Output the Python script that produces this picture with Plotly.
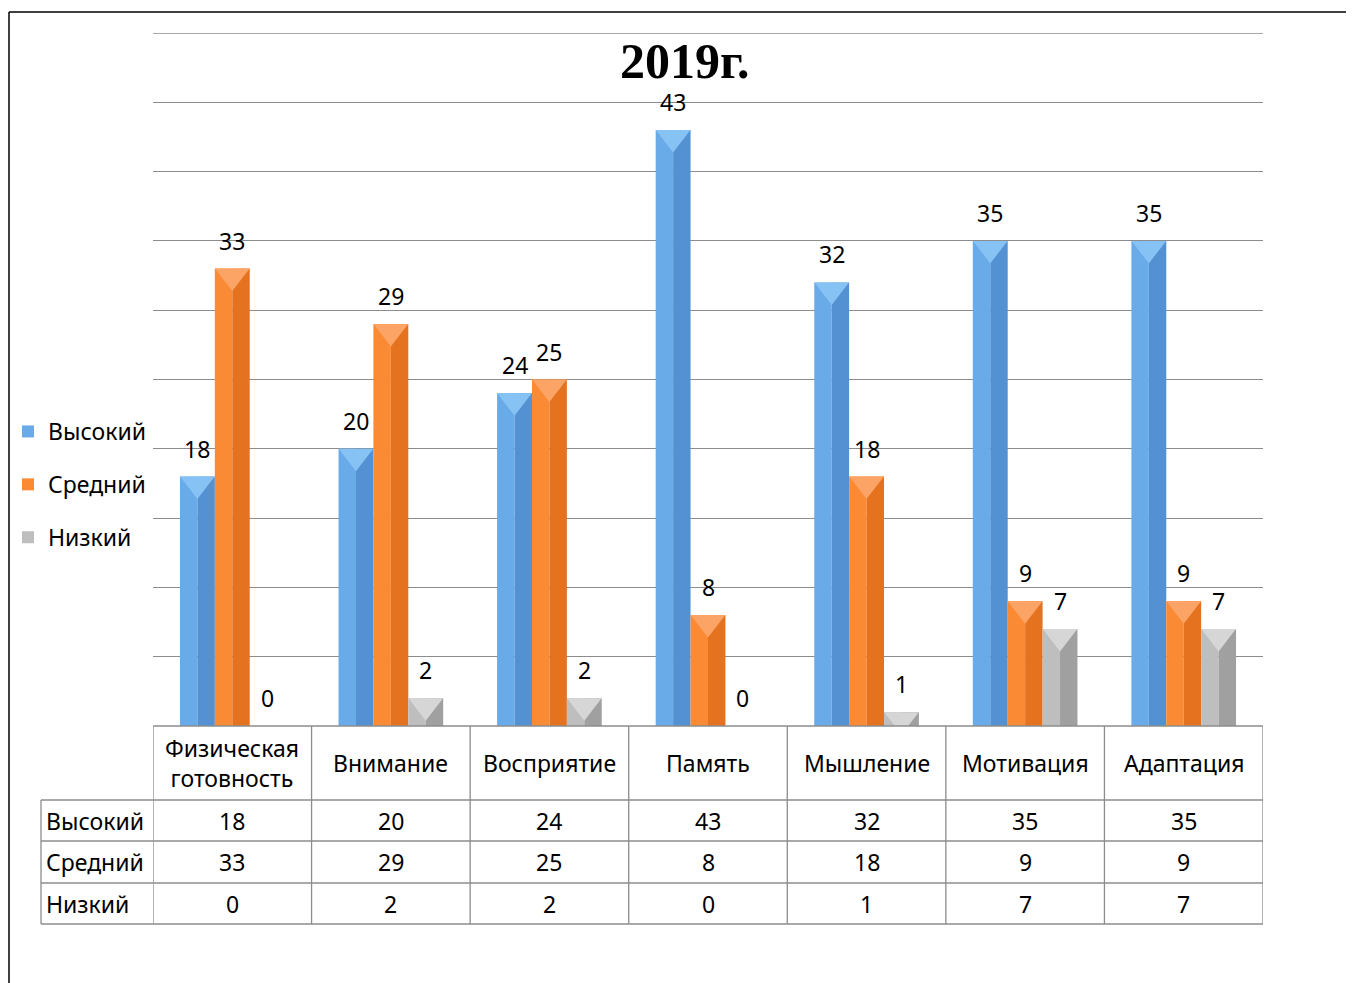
import plotly.graph_objects as go

categories = ["Физическая<br>готовность", "Внимание", "Восприятие", "Память",
              "Мышление", "Мотивация", "Адаптация"]
series_names = ["Высокий", "Средний", "Низкий"]
high = [18, 20, 24, 43, 32, 35, 35]
mid = [33, 29, 25, 8, 18, 9, 9]
low = [0, 2, 2, 0, 1, 7, 7]
title_text = "2019г."
y_max = 50
y_step = 5

series = [high, mid, low]
left_colors = ["#69ABE9", "#FA8A34", "#BEBEBE"]
right_colors = ["#5391D3", "#E4721F", "#A0A0A0"]
cap_colors = ["#86C2F3", "#FCA466", "#D6D6D6"]

OFF = 8  # page body margin
W, H = 1354 - OFF, 983 - OFF
# plot area in reference-page pixels
L, R, T, B = 153, 1263, 33, 726
FONT = "Noto Sans"
FS = 23


def px_x(px):
    return (px - L) / (R - L)


def px_y(py):
    return (B - py) / (B - T)


unit_px = (B - T) / y_max
xs = list(range(len(categories)))
bw = 0.22
cap_size = 30
cap_drop = (cap_size / 4) / unit_px  # align the cap's flat edge with bar top

fig = go.Figure()
for k, (name, vals) in enumerate(zip(series_names, series)):
    start = -0.33 + k * bw
    fig.add_trace(go.Bar(
        x=xs, y=vals, name=name, width=bw / 2, offset=start,
        marker=dict(color=left_colors[k], line=dict(width=0)),
        legendgroup=name, showlegend=True, hoverinfo="y"))
    fig.add_trace(go.Bar(
        x=xs, y=vals, name=name, width=bw / 2, offset=start + bw / 2,
        marker=dict(color=right_colors[k], line=dict(width=0)),
        legendgroup=name, showlegend=False, hoverinfo="y"))
for k, (name, vals) in enumerate(zip(series_names, series)):
    center = -0.33 + k * bw + bw / 2
    fig.add_trace(go.Scatter(
        x=[i + center for i, v in enumerate(vals) if v > 0],
        y=[v - cap_drop for v in vals if v > 0],
        mode="markers",
        marker=dict(symbol="triangle-down", size=cap_size,
                    color=cap_colors[k], line=dict(width=0)),
        legendgroup=name, showlegend=False, hoverinfo="skip"))

annotations = []
for k, vals in enumerate(series):
    center = -0.33 + k * bw + bw / 2
    for i, v in enumerate(vals):
        annotations.append(dict(
            x=i + center, y=v, xref="x", yref="y", text=str(v),
            showarrow=False, yshift=28, yanchor="middle",
            font=dict(family=FONT, size=FS, color="#000")))

shapes = []
grid_col = "#8C8C8C"
shapes.append(dict(type="line", xref="paper", yref="y", x0=0, x1=1,
                   y0=y_max, y1=y_max, line=dict(color=grid_col, width=1.3)))
row_lines = [800, 841, 883, 924]
shapes.append(dict(type="line", xref="paper", yref="paper",
                   x0=0, x1=1, y0=px_y(B), y1=px_y(B),
                   line=dict(color=grid_col, width=1.3)))
for ry in row_lines:
    shapes.append(dict(type="line", xref="paper", yref="paper",
                       x0=px_x(41), x1=1, y0=px_y(ry), y1=px_y(ry),
                       line=dict(color=grid_col, width=1.3)))
shapes.append(dict(type="line", xref="paper", yref="paper",
                   x0=px_x(41), x1=px_x(41), y0=px_y(800), y1=px_y(924),
                   line=dict(color=grid_col, width=1.3)))
for i in range(len(categories) + 1):
    shapes.append(dict(type="line", xref="x", yref="paper",
                       x0=i - 0.5, x1=i - 0.5, y0=px_y(B), y1=px_y(924),
                       line=dict(color=grid_col, width=1.3)))

for i, c in enumerate(categories):
    annotations.append(dict(x=i, y=px_y(763), xref="x", yref="paper", text=c,
                            showarrow=False, yanchor="middle",
                            font=dict(family=FONT, size=FS, color="#000")))
row_centers = [821, 862, 904]
for r, (name, vals) in enumerate(zip(series_names, series)):
    annotations.append(dict(x=px_x(44), y=px_y(row_centers[r]), xref="paper",
                            yref="paper", text=name, showarrow=False,
                            xanchor="left", yanchor="middle",
                            font=dict(family=FONT, size=FS, color="#000")))
    for i, v in enumerate(vals):
        annotations.append(dict(x=i, y=px_y(row_centers[r]), xref="x",
                                yref="paper", text=str(v), showarrow=False,
                                yanchor="middle",
                                font=dict(family=FONT, size=FS, color="#000")))

annotations.append(dict(x=px_x(685), y=px_y(61), xref="paper", yref="paper",
                        text="<b>" + title_text + "</b>", showarrow=False,
                        yanchor="middle",
                        font=dict(family="Liberation Serif", size=50,
                                  color="#000")))

shapes.append(dict(type="line", xref="paper", yref="paper",
                   x0=px_x(9), x1=px_x(1360), y0=px_y(12), y1=px_y(12),
                   line=dict(color="#000", width=1.5)))
shapes.append(dict(type="line", xref="paper", yref="paper",
                   x0=px_x(9), x1=px_x(9), y0=px_y(12), y1=px_y(990),
                   line=dict(color="#000", width=1.5)))

fig.update_layout(
    width=W, height=H,
    margin=dict(l=L - OFF, r=W - (R - OFF), t=T - OFF, b=H - (B - OFF), pad=0,
                autoexpand=False),
    plot_bgcolor="white", paper_bgcolor="white",
    barmode="overlay",
    showlegend=True,
    legend=dict(x=0, xref="container", xanchor="left",
                y=px_y(410), yanchor="top",
                font=dict(family=FONT, size=FS, color="#000"),
                tracegroupgap=20, bgcolor="rgba(0,0,0,0)",
                itemclick=False, traceorder="grouped"),
    xaxis=dict(range=[-0.5, len(categories) - 0.5], showticklabels=False,
               showgrid=False, zeroline=False, showline=False, ticks="",
               fixedrange=True),
    yaxis=dict(range=[0, y_max], dtick=y_step, showticklabels=False,
               showgrid=True, gridcolor=grid_col, gridwidth=1.3,
               zeroline=False, showline=False, ticks="", fixedrange=True),
    annotations=annotations,
    shapes=shapes,
)

fig.write_html("out.html")
